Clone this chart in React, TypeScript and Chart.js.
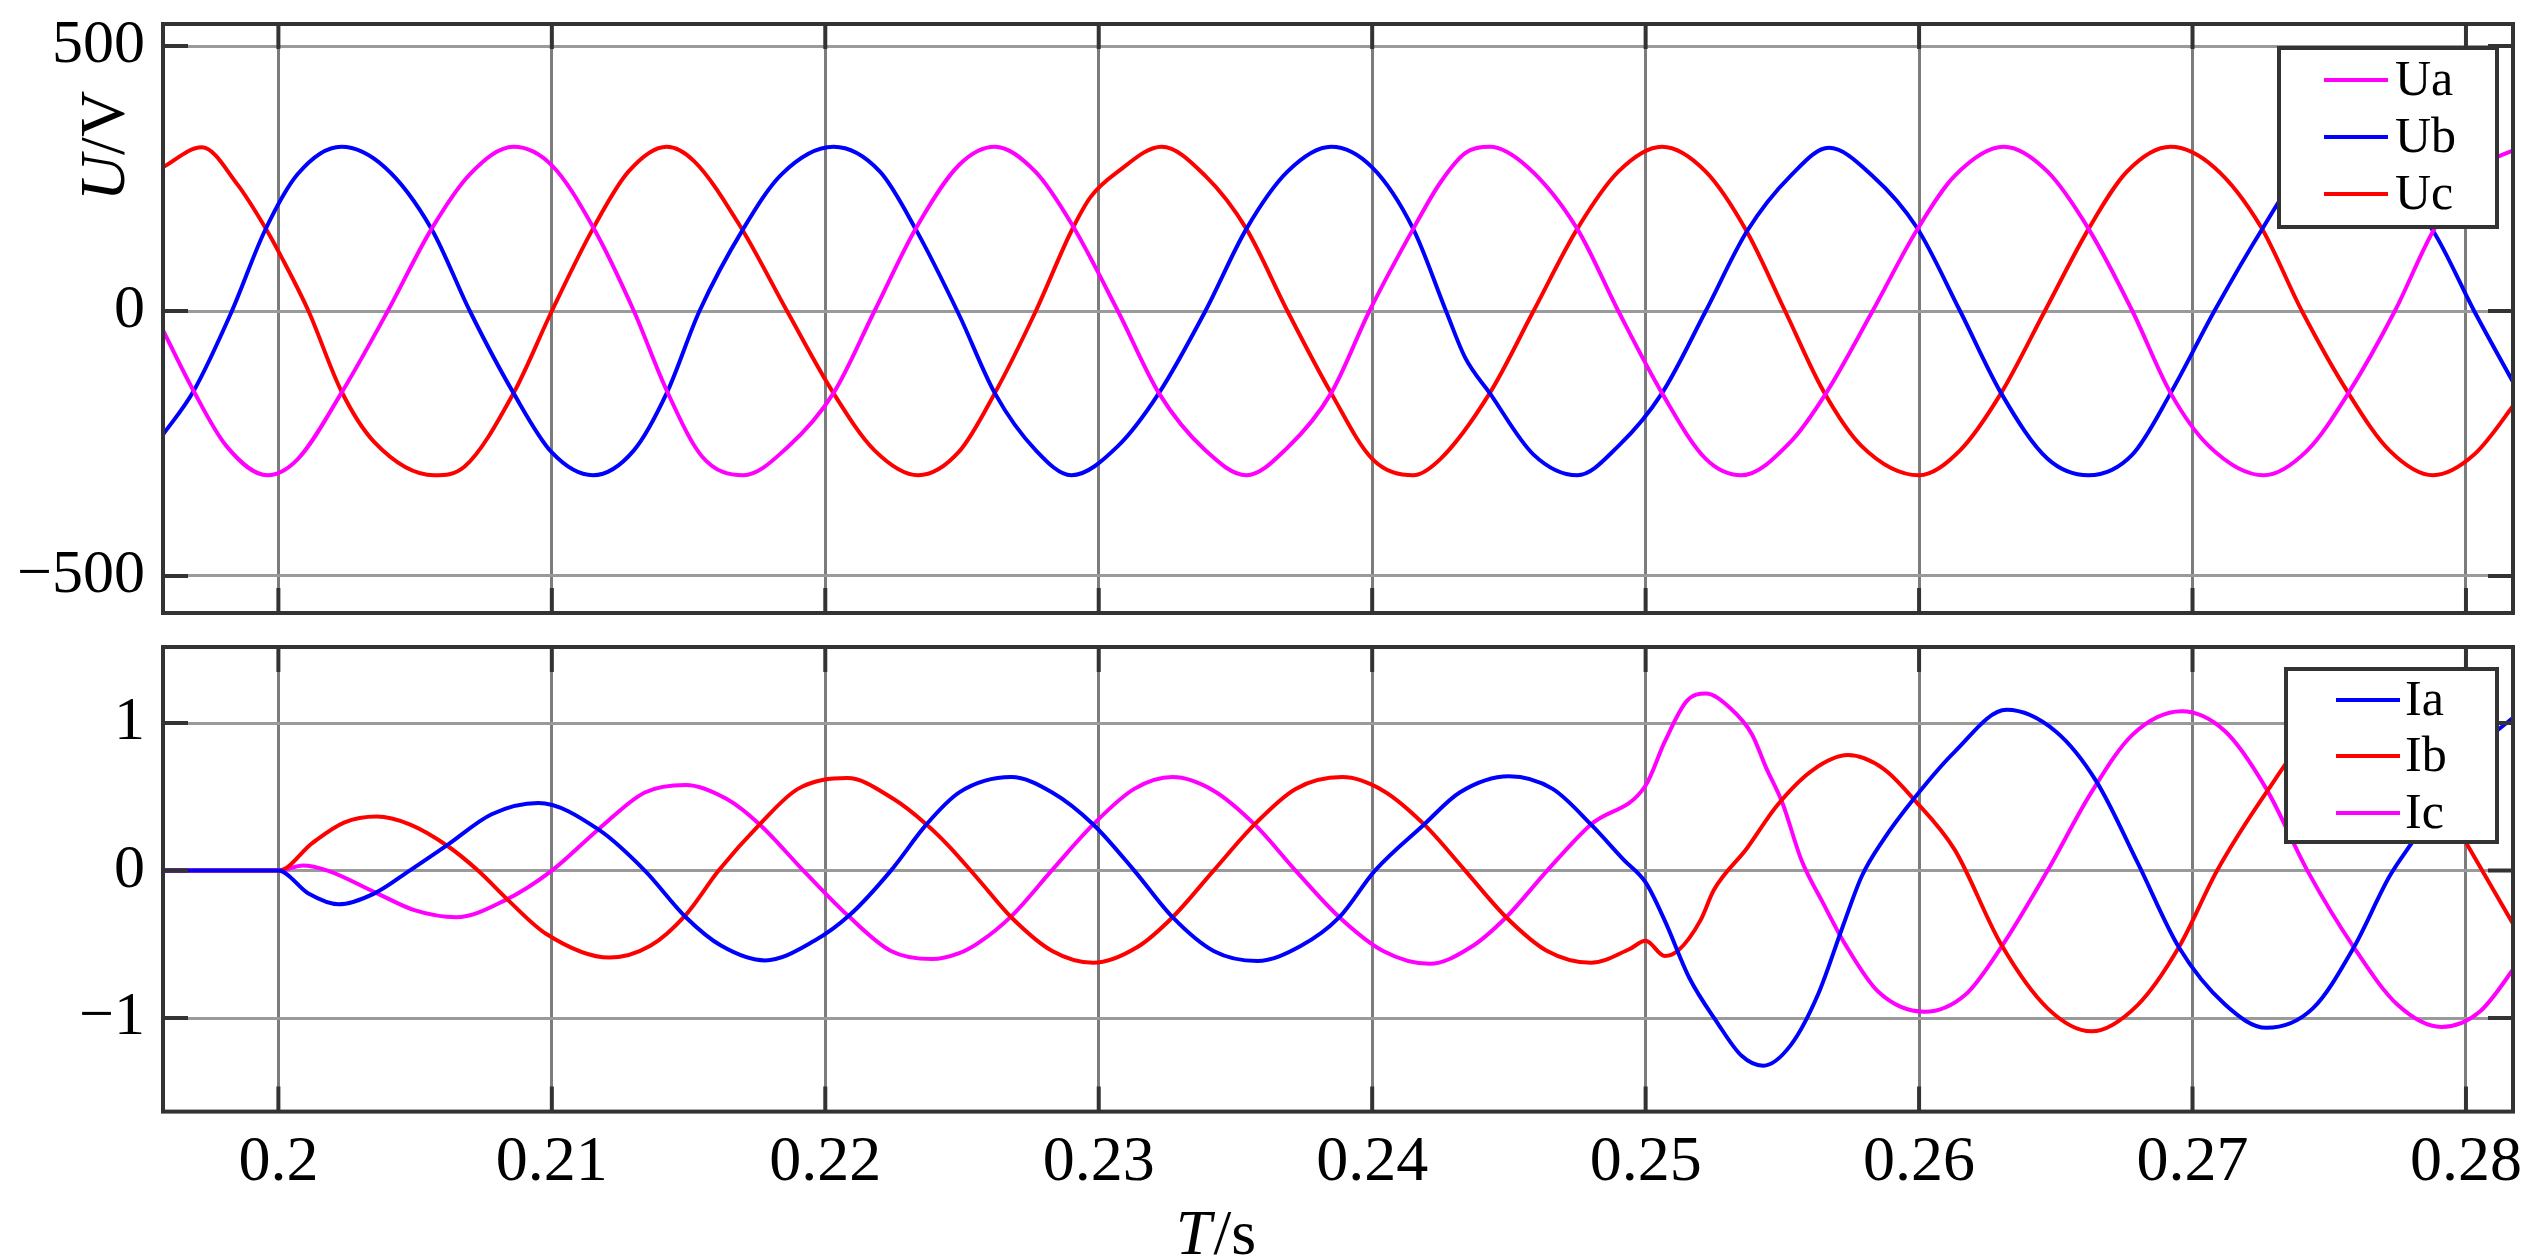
import React, { useEffect, useRef } from 'react';
import { Chart, registerables } from 'chart.js';

Chart.register(...registerables);

// ---------- tick definitions ----------
const timeTicks = [0.2, 0.21, 0.22, 0.23, 0.24, 0.25, 0.26, 0.27, 0.28];
const timeTickLabels = ['0.2', '0.21', '0.22', '0.23', '0.24', '0.25', '0.26', '0.27', '0.28'];
const voltageTicks = [-500, 0, 500];
const voltageTickLabels = ['\u2212500', '0', '500'];
const currentTicks = [-1, 0, 1];
const currentTickLabels = ['\u22121', '0', '1'];

// ---------- voltage series (V) ----------
const uaT = [0.1957, 0.1969, 0.1981, 0.1996, 0.2007, 0.2023, 0.2040, 0.2056, 0.2070, 0.2086, 0.2100, 0.2115, 0.2130, 0.2142, 0.2155, 0.2170, 0.2186, 0.2203, 0.2218, 0.2233, 0.2249, 0.2262, 0.2277, 0.2290, 0.2307, 0.2322, 0.2339, 0.2354, 0.2369, 0.2385, 0.2399, 0.2415, 0.2425, 0.2434, 0.2443, 0.2457, 0.2475, 0.2490, 0.2506, 0.2522, 0.2535, 0.2553, 0.2566, 0.2583, 0.2599, 0.2613, 0.2631, 0.2647, 0.2662, 0.2678, 0.2692, 0.2706, 0.2726, 0.2742, 0.2757, 0.2774, 0.2788, 0.2803, 0.2820];
const uaV = [-28, -151, -255, -310, -280, -155, 0, 155, 258, 310, 275, 159, 0, -150, -275, -310, -258, -155, 0, 155, 276, 310, 262, 165, 0, -155, -263, -310, -258, -155, 0, 155, 243, 298, 310, 271, 155, 0, -155, -279, -310, -247, -155, 0, 151, 255, 310, 263, 155, 0, -155, -255, -310, -263, -155, 0, 151, 262, 310];

const ubT = [0.1957, 0.1969, 0.1983, 0.1995, 0.2007, 0.2023, 0.2039, 0.2056, 0.2070, 0.2086, 0.2100, 0.2115, 0.2130, 0.2142, 0.2154, 0.2170, 0.2184, 0.2203, 0.2220, 0.2233, 0.2249, 0.2262, 0.2277, 0.2290, 0.2307, 0.2322, 0.2339, 0.2354, 0.2369, 0.2385, 0.2400, 0.2415, 0.2427, 0.2434, 0.2443, 0.2459, 0.2475, 0.2490, 0.2506, 0.2522, 0.2537, 0.2553, 0.2567, 0.2583, 0.2599, 0.2615, 0.2630, 0.2647, 0.2662, 0.2678, 0.2692, 0.2708, 0.2726, 0.2740, 0.2754, 0.2770, 0.2788, 0.2803, 0.2820];
const ubV = [-239, -151, 0, 151, 258, 310, 271, 155, 0, -155, -267, -310, -263, -155, 0, 155, 258, 310, 263, 155, -8, -155, -263, -310, -255, -155, 0, 155, 263, 310, 271, 155, 0, -88, -155, -271, -310, -255, -155, 0, 150, 255, 308, 255, 159, 0, -155, -279, -310, -271, -155, 0, 159, 268, 310, 262, 151, 0, -160];

const ucT = [0.1957, 0.1972, 0.1985, 0.1995, 0.2001, 0.2011, 0.2023, 0.2035, 0.2057, 0.2068, 0.2086, 0.2100, 0.2115, 0.2128, 0.2142, 0.2152, 0.2169, 0.2186, 0.2203, 0.2218, 0.2234, 0.2249, 0.2262, 0.2277, 0.2290, 0.2297, 0.2307, 0.2323, 0.2339, 0.2354, 0.2369, 0.2385, 0.2400, 0.2415, 0.2425, 0.2443, 0.2459, 0.2475, 0.2490, 0.2506, 0.2522, 0.2537, 0.2551, 0.2565, 0.2579, 0.2600, 0.2615, 0.2630, 0.2646, 0.2662, 0.2676, 0.2692, 0.2708, 0.2725, 0.2740, 0.2757, 0.2772, 0.2788, 0.2803, 0.2820];
const ucV = [269, 309, 239, 159, 103, 0, -151, -247, -310, -294, -155, 0, 155, 263, 310, 283, 159, 0, -155, -263, -310, -265, -155, 0, 151, 215, 263, 310, 255, 155, 0, -155, -279, -310, -279, -155, 0, 155, 263, 310, 263, 150, 0, -151, -255, -310, -263, -155, 0, 155, 263, 310, 271, 159, 0, -155, -263, -310, -271, -160];

// ---------- current series (A) ----------
const iaT = [0.1957, 0.2000, 0.2011, 0.2022, 0.2035, 0.2048, 0.2062, 0.2078, 0.2095, 0.2117, 0.2134, 0.2149, 0.2162, 0.2178, 0.2196, 0.2209, 0.2224, 0.2237, 0.2249, 0.2268, 0.2283, 0.2298, 0.2313, 0.2327, 0.2342, 0.2358, 0.2374, 0.2388, 0.2401, 0.2419, 0.2432, 0.2450, 0.2466, 0.2480, 0.2492, 0.2500, 0.2507, 0.2516, 0.2526, 0.2535, 0.2543, 0.2553, 0.2563, 0.2572, 0.2579, 0.2587, 0.2598, 0.2613, 0.2632, 0.2650, 0.2665, 0.2680, 0.2695, 0.2712, 0.2727, 0.2744, 0.2759, 0.2772, 0.2781, 0.2800, 0.2820];
const iaV = [0, 0, -0.156, -0.229, -0.156, 0, 0.176, 0.382, 0.458, 0.279, 0, -0.316, -0.51, -0.609, -0.476, -0.30, 0, 0.313, 0.53, 0.634, 0.53, 0.313, 0, -0.316, -0.545, -0.613, -0.51, -0.316, 0, 0.313, 0.53, 0.64, 0.554, 0.313, 0.073, -0.08, -0.339, -0.728, -1.025, -1.254, -1.323, -1.185, -0.842, -0.384, -0.04, 0.21, 0.485, 0.805, 1.09, 0.943, 0.60, 0.05, -0.52, -0.91, -1.066, -0.934, -0.52, -0.04, 0.21, 0.75, 1.08];

const ibT = [0.1957, 0.2000, 0.20125, 0.2024, 0.2036, 0.2048, 0.2062, 0.2073, 0.2084, 0.2098, 0.2121, 0.2136, 0.2149, 0.2161, 0.2176, 0.2190, 0.2208, 0.2225, 0.2237, 0.2245, 0.2256, 0.2268, 0.2283, 0.2298, 0.2314, 0.2327, 0.2342, 0.2357, 0.2372, 0.2389, 0.2404, 0.2419, 0.2434, 0.2449, 0.2464, 0.2480, 0.2494, 0.2500, 0.2507, 0.2512, 0.2520, 0.2525, 0.2537, 0.2548, 0.2561, 0.2574, 0.2587, 0.2598, 0.2613, 0.2630, 0.2647, 0.2663, 0.2680, 0.2695, 0.2709, 0.2727, 0.2742, 0.2758, 0.2775, 0.2790, 0.2800, 0.2820];
const ibV = [0, 0, 0.188, 0.325, 0.366, 0.313, 0.165, 0, -0.20, -0.43, -0.59, -0.51, -0.30, 0, 0.313, 0.554, 0.627, 0.485, 0.313, 0.17, -0.06, -0.316, -0.545, -0.625, -0.52, -0.316, 0, 0.313, 0.554, 0.634, 0.542, 0.313, 0, -0.316, -0.545, -0.625, -0.533, -0.476, -0.579, -0.54, -0.339, -0.13, 0.15, 0.44, 0.68, 0.783, 0.69, 0.485, 0.142, -0.50, -0.934, -1.09, -0.91, -0.52, 0, 0.53, 0.90, 1.03, 0.87, 0.50, 0.19, -0.45];

const icT = [0.1957, 0.2000, 0.2009, 0.2018, 0.2035, 0.2050, 0.2065, 0.2083, 0.2100, 0.2117, 0.2134, 0.2149, 0.2164, 0.2176, 0.2192, 0.2208, 0.2224, 0.2239, 0.2249, 0.2256, 0.2268, 0.2283, 0.2298, 0.2313, 0.2327, 0.2342, 0.2357, 0.2372, 0.2388, 0.2404, 0.2421, 0.2436, 0.2449, 0.2464, 0.2480, 0.2500, 0.2507, 0.2515, 0.2522, 0.2531, 0.2539, 0.2544, 0.2550, 0.2557, 0.2565, 0.2573, 0.2585, 0.2602, 0.2617, 0.2630, 0.2647, 0.2663, 0.2678, 0.2696, 0.2712, 0.2727, 0.2742, 0.2759, 0.2775, 0.2791, 0.2805, 0.2820];
const icV = [0, 0, 0.035, 0, -0.144, -0.27, -0.316, -0.20, 0, 0.279, 0.53, 0.581, 0.485, 0.313, 0, -0.30, -0.545, -0.60, -0.56, -0.49, -0.31, 0.005, 0.313, 0.554, 0.634, 0.542, 0.313, 0, -0.316, -0.545, -0.632, -0.52, -0.316, 0, 0.313, 0.577, 0.874, 1.149, 1.20, 1.10, 0.92, 0.70, 0.46, 0.07, -0.224, -0.50, -0.82, -0.957, -0.84, -0.52, 0, 0.53, 0.92, 1.08, 0.943, 0.554, 0, -0.52, -0.91, -1.06, -0.957, -0.60];

// ---------- styling / layout ----------
const FONT = "'Liberation Serif', 'Times New Roman', Times, serif";
const X_MIN = 0.19578;
const X_MAX = 0.28172;
const WIDTH = 2541;
const FRAME = '#333333';
const TICK_LEN = 25;

type Series = { label: string; t: number[]; v: number[]; color: string };
type Panel = {
  top: number;
  height: number;
  padTop: number;
  axisH: number;
  yMin: number;
  yMax: number;
  yTicks: number[];
  yLabels: string[];
  showX: boolean;
  series: Series[];
  legend: { x: number; y: number; w: number; h: number; l0: number; l1: number; tx: number; rows: number[] };
  yTitle?: { x: number; y: number };
  xTitle?: { x: number; y: number };
};

const topPanel: Panel = {
  top: 0,
  height: 640,
  padTop: 24,
  axisH: 27,
  yMin: -570,
  yMax: 541.7,
  yTicks: voltageTicks,
  yLabels: voltageTickLabels,
  showX: false,
  series: [
    { label: 'Ua', t: uaT, v: uaV, color: '#ff00ff' },
    { label: 'Ub', t: ubT, v: ubV, color: '#0000ff' },
    { label: 'Uc', t: ucT, v: ucV, color: '#ff0000' },
  ],
  legend: { x: 2279, y: 48, w: 218, h: 179, l0: 2324, l1: 2388, tx: 2395, rows: [80, 137, 194] },
  yTitle: { x: 124, y: 146 },
};

const bottomPanel: Panel = {
  top: 640,
  height: 617,
  padTop: 7,
  axisH: 145.4,
  yMin: -1.634,
  yMax: 1.516,
  yTicks: currentTicks,
  yLabels: currentTickLabels,
  showX: true,
  series: [
    { label: 'Ia', t: iaT, v: iaV, color: '#0000ff' },
    { label: 'Ib', t: ibT, v: ibV, color: '#ff0000' },
    { label: 'Ic', t: icT, v: icV, color: '#ff00ff' },
  ],
  legend: { x: 2286, y: 29, w: 211, h: 173, l0: 2336, l1: 2400, tx: 2405, rows: [60, 116, 173] },
  xTitle: { x: 1215, y: 614 },
};

function zeroPadding(scale: any) {
  scale.paddingTop = 0;
  scale.paddingBottom = 0;
  scale.paddingLeft = 0;
  scale.paddingRight = 0;
}

function makePlugin(p: Panel) {
  return {
    id: 'frameAndDecor',
    afterDatasetsDraw(chart: any) {
      const { ctx, chartArea: a, scales } = chart;
      ctx.save();
      // inward tick marks
      ctx.strokeStyle = FRAME;
      ctx.lineWidth = 4;
      ctx.beginPath();
      for (const t of timeTicks) {
        const x = scales.x.getPixelForValue(t);
        ctx.moveTo(x, a.top);
        ctx.lineTo(x, a.top + TICK_LEN);
        ctx.moveTo(x, a.bottom);
        ctx.lineTo(x, a.bottom - TICK_LEN);
      }
      for (const v of p.yTicks) {
        const y = scales.y.getPixelForValue(v);
        ctx.moveTo(a.left, y);
        ctx.lineTo(a.left + TICK_LEN, y);
        ctx.moveTo(a.right, y);
        ctx.lineTo(a.right - TICK_LEN, y);
      }
      ctx.stroke();
      // axes box
      ctx.strokeRect(a.left, a.top, a.right - a.left, a.bottom - a.top);

      // legend
      const L = p.legend;
      ctx.fillStyle = '#ffffff';
      ctx.fillRect(L.x, L.y, L.w, L.h);
      ctx.strokeStyle = FRAME;
      ctx.lineWidth = 4;
      ctx.strokeRect(L.x, L.y, L.w, L.h);
      ctx.font = `50px ${FONT}`;
      ctx.textBaseline = 'middle';
      ctx.textAlign = 'left';
      p.series.forEach((s, i) => {
        const y = L.rows[i];
        ctx.strokeStyle = s.color;
        ctx.lineWidth = 4;
        ctx.beginPath();
        ctx.moveTo(L.l0, y);
        ctx.lineTo(L.l1, y);
        ctx.stroke();
        ctx.fillStyle = '#000000';
        ctx.fillText(s.label, L.tx, y + 2);
      });

      // axis titles
      ctx.fillStyle = '#000000';
      ctx.textBaseline = 'alphabetic';
      if (p.yTitle) {
        ctx.save();
        ctx.translate(p.yTitle.x, p.yTitle.y);
        ctx.rotate(-Math.PI / 2);
        const fI = `italic 64px ${FONT}`;
        const fN = `64px ${FONT}`;
        ctx.font = fI;
        const w1 = ctx.measureText('U').width;
        ctx.font = fN;
        const w2 = ctx.measureText('/V').width;
        const x0 = -(w1 + w2) / 2;
        ctx.font = fI;
        ctx.textAlign = 'left';
        ctx.fillText('U', x0, 0);
        ctx.font = fN;
        ctx.fillText('/V', x0 + w1, 0);
        ctx.restore();
      }
      if (p.xTitle) {
        const fI = `italic 64px ${FONT}`;
        const fN = `64px ${FONT}`;
        ctx.font = fI;
        const w1 = ctx.measureText('T').width;
        ctx.font = fN;
        const w2 = ctx.measureText('/s').width;
        const x0 = p.xTitle.x - (w1 + w2) / 2;
        ctx.textAlign = 'left';
        ctx.font = fI;
        ctx.fillText('T', x0, p.xTitle.y);
        ctx.font = fN;
        ctx.fillText('/s', x0 + w1 + 2, p.xTitle.y);
      }
      ctx.restore();
    },
  };
}

function makeConfig(p: Panel): any {
  return {
    type: 'line',
    data: {
      datasets: p.series.map((s) => ({
        label: s.label,
        data: s.t.map((x, i) => ({ x, y: s.v[i] })),
        borderColor: s.color,
        backgroundColor: s.color,
        borderWidth: 4,
        pointRadius: 0,
        fill: false,
        cubicInterpolationMode: 'monotone',
        clip: 0,
      })),
    },
    options: {
      responsive: false,
      animation: false,
      events: [],
      layout: { padding: { top: p.padTop, right: WIDTH - 2513, bottom: 0, left: 0 } },
      plugins: { legend: { display: false }, tooltip: { enabled: false }, title: { display: false } },
      scales: {
        x: {
          type: 'linear',
          min: X_MIN,
          max: X_MAX,
          afterBuildTicks: (scale: any) => {
            scale.ticks = timeTicks.map((value) => ({ value }));
          },
          afterFit: (scale: any) => {
            scale.height = p.axisH;
            zeroPadding(scale);
          },
          grid: { color: '#7c7c7c', lineWidth: 3, drawTicks: false },
          border: { display: false },
          ticks: {
            display: p.showX,
            autoSkip: false,
            maxRotation: 0,
            minRotation: 0,
            padding: 13,
            color: '#000000',
            font: { family: FONT, size: 64 },
            callback: (value: number) => {
              const i = timeTicks.findIndex((t) => Math.abs(t - value) < 1e-9);
              return i >= 0 ? timeTickLabels[i] : '';
            },
          },
        },
        y: {
          type: 'linear',
          min: p.yMin,
          max: p.yMax,
          afterBuildTicks: (scale: any) => {
            scale.ticks = p.yTicks.map((value) => ({ value }));
          },
          afterFit: (scale: any) => {
            scale.width = 163;
            zeroPadding(scale);
          },
          grid: { color: '#9a9a9a', lineWidth: 3, drawTicks: false },
          border: { display: false },
          ticks: {
            padding: 18,
            color: '#000000',
            font: { family: FONT, size: 62 },
            callback: (value: number) => {
              const i = p.yTicks.findIndex((t) => Math.abs(t - value) < 1e-9);
              return i >= 0 ? p.yLabels[i] : '';
            },
          },
        },
      },
    },
    plugins: [makePlugin(p)],
  };
}

function PanelChart({ panel }: { panel: Panel }) {
  const ref = useRef<HTMLCanvasElement | null>(null);
  useEffect(() => {
    if (!ref.current) return;
    const chart = new Chart(ref.current, makeConfig(panel));
    return () => chart.destroy();
  }, [panel]);
  return (
    <canvas
      ref={ref}
      width={WIDTH}
      height={panel.height}
      style={{ position: 'absolute', left: 0, top: panel.top, width: WIDTH, height: panel.height, display: 'block' }}
    />
  );
}

export default function App() {
  return (
    <div style={{ position: 'fixed', left: 0, top: 0, width: WIDTH, height: 1257, background: '#ffffff', overflow: 'hidden' }}>
      <PanelChart panel={topPanel} />
      <PanelChart panel={bottomPanel} />
    </div>
  );
}
